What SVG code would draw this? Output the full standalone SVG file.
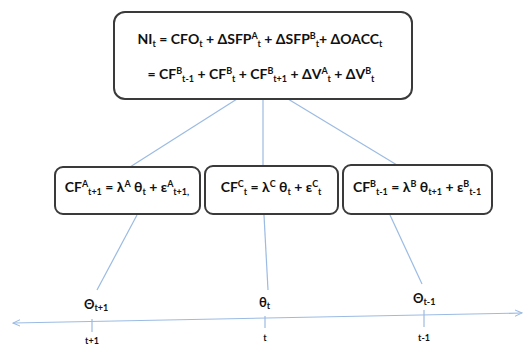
<svg xmlns="http://www.w3.org/2000/svg" width="527" height="347" viewBox="0 0 527 347">
<style>
.box{fill:#fff;stroke:#3a3a3a;stroke-width:2}
.ln{stroke:#9bbbe3;stroke-width:1.2;fill:none}
.t{font-family:Lato,"Liberation Sans",sans-serif;font-weight:bold;fill:#111}
.s{font-size:9px}
</style>
<defs>
<marker id="ah" viewBox="0 0 10 10" refX="9" refY="5" markerWidth="8" markerHeight="8" orient="auto-start-reverse" markerUnits="userSpaceOnUse">
<path d="M0,1 L9,5 L0,9" fill="none" stroke="#9bbbe3" stroke-width="1.3"/>
</marker>
</defs>
<g id="connectors">
<line class="ln" x1="237" y1="99" x2="130" y2="167"/>
<line class="ln" x1="263" y1="99" x2="263" y2="166"/>
<line class="ln" x1="288" y1="99" x2="397" y2="165"/>
<line class="ln" x1="137" y1="215" x2="97" y2="290"/>
<line class="ln" x1="264" y1="215" x2="268" y2="290"/>
<line class="ln" x1="390" y1="215" x2="422" y2="284"/>
<line class="ln" x1="13" y1="323" x2="522" y2="313" marker-start="url(#ah)" marker-end="url(#ah)"/>
<line class="ln" x1="92" y1="319" x2="92" y2="332"/>
<line class="ln" x1="265" y1="316" x2="265" y2="328"/>
<line class="ln" x1="424" y1="310" x2="424" y2="327"/>
</g>
<g id="top">
<rect class="box" x="114" y="12" width="298" height="87" rx="11"/>
<text class="t" x="260" y="44" text-anchor="middle" font-size="14">NI<tspan class="s" dy="3">t</tspan><tspan dy="-3"> = CFO</tspan><tspan class="s" dy="3">t</tspan><tspan dy="-3"> + ΔSFP</tspan><tspan class="s" dy="-5">A</tspan><tspan class="s" dy="8">t</tspan><tspan dy="-3"> + ΔSFP</tspan><tspan class="s" dy="-5">B</tspan><tspan class="s" dy="8">t</tspan><tspan dy="-3">+ ΔOACC</tspan><tspan class="s" dy="3">t</tspan></text>
<text class="t" x="261" y="79" text-anchor="middle" font-size="14">= CF<tspan class="s" dy="-5">B</tspan><tspan class="s" dy="8">t-1</tspan><tspan dy="-3"> + CF</tspan><tspan class="s" dy="-5">B</tspan><tspan class="s" dy="8">t</tspan><tspan dy="-3"> + CF</tspan><tspan class="s" dy="-5">B</tspan><tspan class="s" dy="8">t+1</tspan><tspan dy="-3"> + ΔV</tspan><tspan class="s" dy="-5">A</tspan><tspan class="s" dy="8">t</tspan><tspan dy="-3"> + ΔV</tspan><tspan class="s" dy="-5">B</tspan><tspan class="s" dy="8">t</tspan></text>
</g>
<g id="nodeA">
<rect class="box" x="55" y="167" width="145" height="47" rx="8"/>
<text class="t" x="127" y="192" text-anchor="middle" font-size="14">CF<tspan class="s" dy="-5">A</tspan><tspan class="s" dy="8">t+1</tspan><tspan dy="-3"> = λ</tspan><tspan class="s" dy="-5">A</tspan><tspan dy="5"> θ</tspan><tspan class="s" dy="3">t</tspan><tspan dy="-3"> + ε</tspan><tspan class="s" dy="-5">A</tspan><tspan class="s" dy="8">t+1,</tspan></text>
</g>
<g id="nodeC">
<rect class="box" x="205" y="166" width="133" height="48" rx="8"/>
<text class="t" x="271" y="192" text-anchor="middle" font-size="14">CF<tspan class="s" dy="-5">C</tspan><tspan class="s" dy="8">t</tspan><tspan dy="-3"> = λ</tspan><tspan class="s" dy="-5">C</tspan><tspan dy="5"> θ</tspan><tspan class="s" dy="3">t</tspan><tspan dy="-3"> + ε</tspan><tspan class="s" dy="-5">C</tspan><tspan class="s" dy="8">t</tspan></text>
</g>
<g id="nodeB">
<rect class="box" x="343" y="165" width="149" height="49" rx="8"/>
<text class="t" x="417" y="192" text-anchor="middle" font-size="14">CF<tspan class="s" dy="-5">B</tspan><tspan class="s" dy="8">t-1</tspan><tspan dy="-3"> = λ</tspan><tspan class="s" dy="-5">B</tspan><tspan dy="5"> θ</tspan><tspan class="s" dy="3">t+1</tspan><tspan dy="-3"> + ε</tspan><tspan class="s" dy="-5">B</tspan><tspan class="s" dy="8">t-1</tspan></text>
</g>
<g id="timeline-labels">
<text class="t" x="84" y="309" font-size="13">Θ<tspan class="s" font-size="8" dy="2">t+1</tspan></text>
<text class="t" x="259" y="307" font-size="13">θ<tspan class="s" font-size="8" dy="2">t</tspan></text>
<text class="t" x="413" y="303" font-size="13">Θ<tspan class="s" font-size="8" dy="2">t-1</tspan></text>
<text class="t" x="92" y="344" font-size="9" text-anchor="middle">t+1</text>
<text class="t" x="265" y="341" font-size="9" text-anchor="middle">t</text>
<text class="t" x="424" y="341" font-size="9" text-anchor="middle">t-1</text>
</g>
</svg>
